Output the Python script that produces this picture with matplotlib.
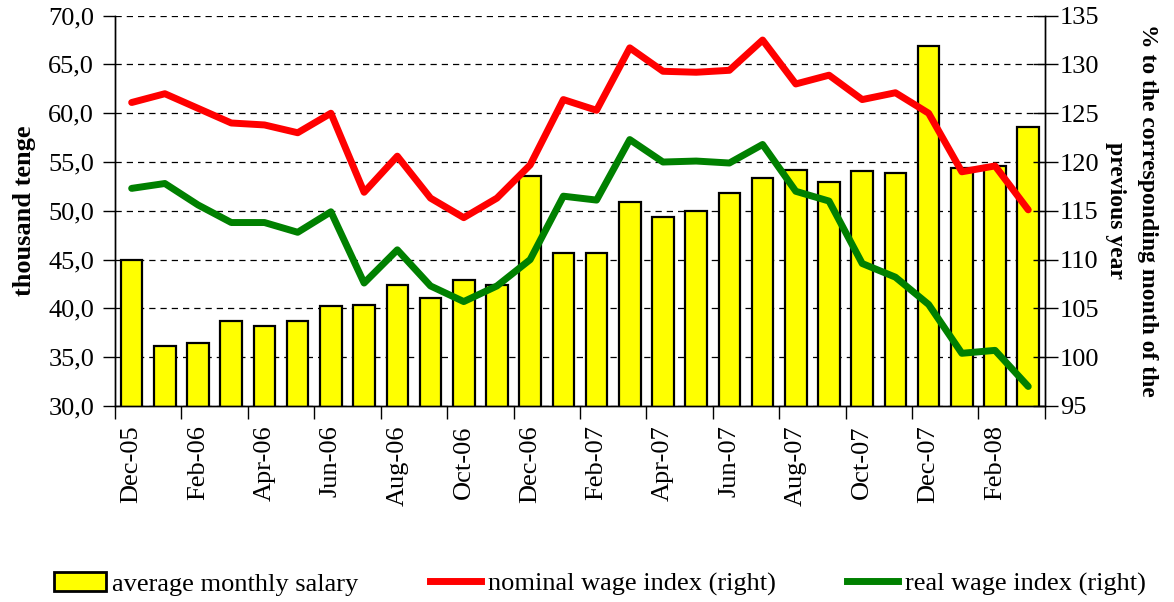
import matplotlib
matplotlib.use("Agg")
import matplotlib.pyplot as plt
import numpy as np
from matplotlib.patches import Patch
from matplotlib.lines import Line2D
from matplotlib.ticker import FuncFormatter

plt.rcParams['font.family'] = ['Liberation Serif', 'DejaVu Serif']

# monthly data, Dec-05 .. Mar-08
months = ['Dec-05', 'Jan-06', 'Feb-06', 'Mar-06', 'Apr-06', 'May-06', 'Jun-06',
          'Jul-06', 'Aug-06', 'Sep-06', 'Oct-06', 'Nov-06', 'Dec-06', 'Jan-07',
          'Feb-07', 'Mar-07', 'Apr-07', 'May-07', 'Jun-07', 'Jul-07', 'Aug-07',
          'Sep-07', 'Oct-07', 'Nov-07', 'Dec-07', 'Jan-08', 'Feb-08', 'Mar-08']
salary = [45.0, 36.1, 36.5, 38.7, 38.2, 38.7, 40.2, 40.4, 42.4, 41.1, 42.9, 42.4,
          53.6, 45.7, 45.7, 50.9, 49.4, 50.0, 51.8, 53.4, 54.2, 53.0, 54.1, 53.9,
          66.9, 54.4, 54.6, 58.6]
nominal = [126.1, 127.0, 125.5, 124.0, 123.8, 123.0, 125.0, 116.9, 120.6, 116.3,
           114.3, 116.3, 119.7, 126.4, 125.3, 131.7, 129.3, 129.2, 129.4, 132.5,
           128.0, 128.9, 126.4, 127.1, 125.0, 119.0, 119.6, 115.1]
real = [117.3, 117.8, 115.6, 113.8, 113.8, 112.8, 114.9, 107.6, 111.0, 107.3,
        105.7, 107.3, 110.0, 116.5, 116.1, 122.3, 120.0, 120.1, 119.9, 121.8,
        117.0, 116.0, 109.6, 108.2, 105.4, 100.4, 100.7, 97.0]

x = np.arange(len(months))
fs = 19

fig = plt.figure(figsize=(11.74, 6.02), dpi=100)
ax = fig.add_axes([0.098, 0.3256, 0.792, 0.6484])
ax2 = ax.twinx()

ax.bar(x, salary, width=0.65, color='#ffff00', edgecolor='black', linewidth=1.6, zorder=2)
ax.set_ylim(30, 70)
ax.set_yticks(np.arange(30, 71, 5))
ax.yaxis.set_major_formatter(FuncFormatter(lambda v, p: f"{v:.1f}".replace('.', ',')))
ax.yaxis.grid(True, linestyle=(0, (5, 4)), color='black', linewidth=0.9, zorder=0)
ax.set_axisbelow(True)
ax.set_xlim(-0.5, len(months) - 0.5)

# ticks between month pairs, labels on every second month
ax.set_xticks(np.arange(-0.5, len(months), 2))
ax.set_xticklabels([])
ax.set_xticks(x[::2], minor=True)
ax.set_xticklabels(months[::2], minor=True, rotation=90, fontsize=fs)
ax.tick_params(axis='x', which='major', direction='out', length=9, width=1)
ax.tick_params(axis='x', which='minor', length=0, pad=14)
ax.tick_params(axis='y', direction='out', length=9, width=1, labelsize=fs, pad=6)
ax.set_ylabel('thousand tenge', fontsize=fs, fontweight='bold', labelpad=9)

ax2.plot(x, nominal, color='#ff0000', linewidth=5, solid_capstyle='round', zorder=3)
ax2.plot(x, real, color='#008000', linewidth=5, solid_capstyle='round', zorder=3)
ax2.set_ylim(95, 135)
ax2.set_yticks(np.arange(95, 136, 5))
ax2.tick_params(axis='y', direction='inout', length=18, width=1, labelsize=fs, pad=2)
ax2.set_ylabel('% to the corresponding month of the\nprevious year', fontsize=17,
               fontweight='bold', rotation=270, labelpad=42, linespacing=1.7)

for a in (ax, ax2):
    a.spines['top'].set_visible(False)
    for s in ('left', 'right', 'bottom'):
        a.spines[s].set_linewidth(1)

handles = [Patch(facecolor='#ffff00', edgecolor='black', linewidth=2),
           Line2D([0], [0], color='#ff0000', linewidth=5),
           Line2D([0], [0], color='#008000', linewidth=5)]
labels = ['average monthly salary', 'nominal wage index (right)', 'real wage index (right)']
fig.legend(handles, labels, loc='lower center', bbox_to_anchor=(0.511, -0.03), ncol=3,
           frameon=False, fontsize=fs, columnspacing=2.7, handlelength=1.95,
           handletextpad=0.25, handleheight=0.75)

fig.savefig('out.png', dpi=100)
